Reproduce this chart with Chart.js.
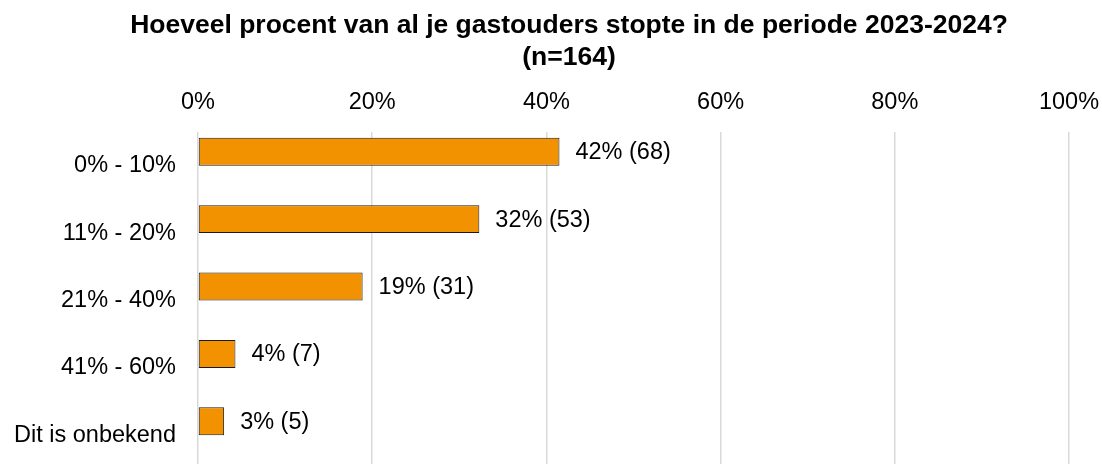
<!DOCTYPE html>
<html lang="nl">
<head>
<meta charset="utf-8">
<title>Gastouders gestopt 2023-2024</title>
<script src="https://cdn.jsdelivr.net/npm/chart.js@4.4.1/dist/chart.umd.min.js"></script>
<style>
    html, body { margin: 0; padding: 0; background: #fff; overflow: hidden; }
    #stopChart { display: block; }
</style>
</head>
<body>
<canvas id="stopChart" width="1102" height="472"></canvas>
<script>
// categorieën en waarden (percentage van n=164, aantal respondenten)
const categorieen = ['0% - 10%', '11% - 20%', '21% - 40%', '41% - 60%', 'Dit is onbekend'];
const percentages = [41.5, 32.3, 18.9, 4.3, 3.0];
const aantallen = [68, 53, 31, 7, 5];
const xTicks = [0, 20, 40, 60, 80, 100];
const titelRegels = ['Hoeveel procent van al je gastouders stopte in de periode 2023-2024?', '(n=164)'];

const fontFamily = "'Liberation Sans', Arial, sans-serif";
const oranje = '#F39200';

// titel in twee regels boven de grafiek
const titelPlugin = {
    id: 'titel',
    afterDraw(chart) {
        const ctx = chart.ctx;
        ctx.save();
        ctx.fillStyle = '#000';
        ctx.font = 'bold 26.5px ' + fontFamily;
        ctx.textAlign = 'center';
        ctx.textBaseline = 'alphabetic';
        const midden = chart.width / 2 + 18;
        titelRegels.forEach((regel, i) => {
            ctx.fillText(regel, midden, 33 + i * 32);
        });
        ctx.restore();
    }
};

// labels "xx% (n)" rechts naast de balken
const labelPlugin = {
    id: 'balkLabels',
    afterDatasetsDraw(chart) {
        const ctx = chart.ctx;
        const meta = chart.getDatasetMeta(0);
        ctx.save();
        ctx.fillStyle = '#000';
        ctx.font = '23.5px ' + fontFamily;
        ctx.textAlign = 'left';
        ctx.textBaseline = 'middle';
        meta.data.forEach((bar, i) => {
            const tekst = `${Math.round(percentages[i])}% (${aantallen[i]})`;
            ctx.fillText(tekst, bar.x + 16, bar.y + 1);
        });
        ctx.restore();
    }
};

const ctx = document.getElementById('stopChart').getContext('2d');
new Chart(ctx, {
    type: 'bar',
    data: {
        labels: categorieen,
        datasets: [{
            label: 'Percentage',
            data: percentages,
            backgroundColor: oranje,
            borderColor: '#1a1a1a',
            borderWidth: 1,
            borderSkipped: false
        }, {
            // lege tweede reeks, houdt de ruimte onder elke balk vrij
            label: '',
            data: categorieen.map(() => null),
            backgroundColor: 'transparent'
        }]
    },
    options: {
        indexAxis: 'y',
        responsive: false,
        animation: false,
        devicePixelRatio: 1,
        categoryPercentage: 0.83,
        barPercentage: 1,
        layout: { padding: { top: 0, left: 0, right: 33, bottom: 3 } },
        plugins: {
            legend: { display: false },
            title: { display: false },
            tooltip: { enabled: false }
        },
        scales: {
            x: {
                position: 'top',
                min: 0,
                max: 100,
                afterFit(scale) {
                    scale.height = 132;
                    scale.paddingLeft = 0;
                    scale.paddingRight = 0;
                },
                afterBuildTicks(scale) { scale.ticks = xTicks.map(v => ({ value: v })); },
                ticks: {
                    color: '#000',
                    padding: 15,
                    font: { family: fontFamily, size: 23.5 },
                    callback: v => v + '%'
                },
                grid: { color: '#d9d9d9', lineWidth: 1.5, drawTicks: false },
                border: { display: false }
            },
            y: {
                afterFit(scale) {
                    scale.width = 198;
                    scale.paddingTop = 0;
                    scale.paddingBottom = 0;
                },
                ticks: {
                    color: '#000',
                    padding: 22,
                    font: { family: fontFamily, size: 23.5 }
                },
                grid: { display: false, drawTicks: false },
                border: { display: false }
            }
        }
    },
    plugins: [titelPlugin, labelPlugin]
});
</script>
</body>
</html>
